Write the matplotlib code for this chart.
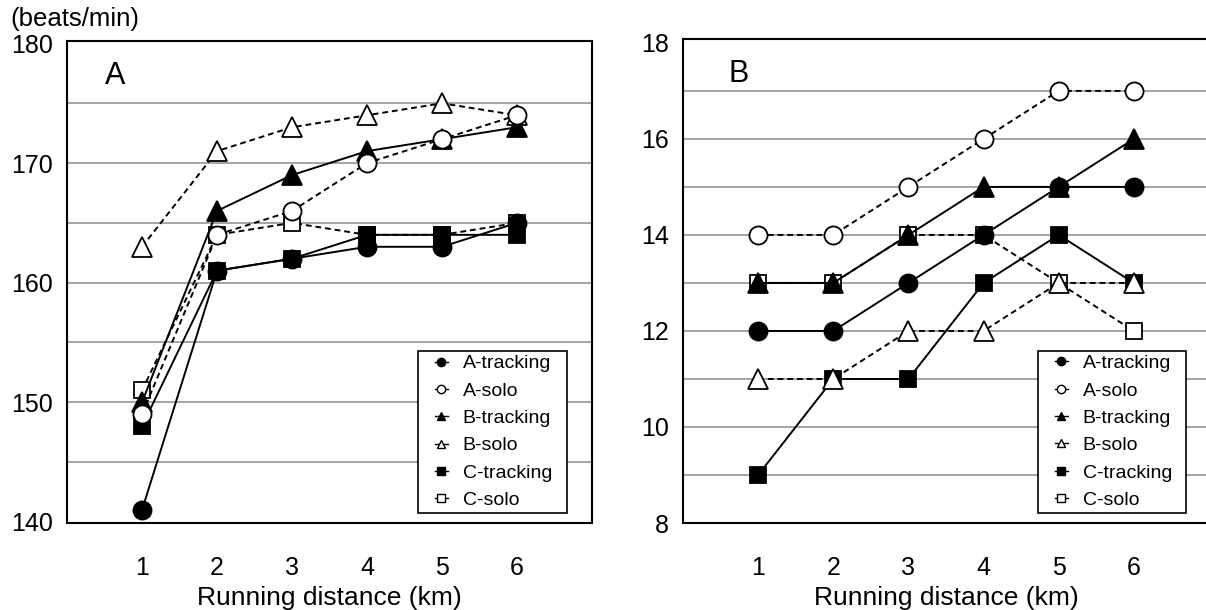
import numpy as np
import matplotlib
matplotlib.use("Agg")
import matplotlib.pyplot as plt
from matplotlib.lines import Line2D
from matplotlib.legend_handler import HandlerLine2D

plt.rcParams['font.family'] = ['Liberation Sans', 'DejaVu Sans']

# Данні
km = [1, 2, 3, 4, 5, 6]
names = ["A-tracking", "A-solo", "B-tracking", "B-solo", "C-tracking", "C-solo"]

# Панель A: пульс (beats/min)
hr_a_tracking = [141, 161, 162, 163, 163, 165]
hr_a_solo = [149, 164, 166, 170, 172, 174]
hr_b_tracking = [150, 166, 169, 171, 172, 173]
hr_b_solo = [163, 171, 173, 174, 175, 174]
hr_c_tracking = [148, 161, 162, 164, 164, 164]
hr_c_solo = [151, 164, 165, 164, 164, 165]

# Панель B
b_a_tracking = [12, 12, 13, 14, 15, 15]
b_a_solo = [14, 14, 15, 16, 17, 17]
b_b_tracking = [13, 13, 14, 15, 15, 16]
b_b_solo = [11, 11, 12, 12, 13, 13]
b_c_tracking = [9, 11, 11, 13, 14, 13]
b_c_solo = [13, 13, 14, 14, 13, 12]

# стилі серій: маркер, заливка, лінія
styles = {
    "A-tracking": ("o", "black", "-"),
    "A-solo": ("o", "white", (0, (3, 2))),
    "B-tracking": ("^", "black", "-"),
    "B-solo": ("^", "white", (0, (3, 2))),
    "C-tracking": ("s", "black", "-"),
    "C-solo": ("s", "white", (0, (3, 2))),
}
msize = {"o": 13, "^": 15, "s": 12}


class ShortHandler(HandlerLine2D):
    # коротка лінія по центру маркера в легенді
    def get_xdata(self, legend, xdescent, ydescent, width, height, fontsize):
        c = width / 2 - xdescent
        xd = np.array([c - 4.5, c + 4.5])
        return xd, np.array([c])


def draw_panel(ax, series, ylim, yticks, grid, letter, letter_x, leg_box):
    ax.set_xlim(0, 7)
    ax.set_ylim(*ylim)
    for y in grid:
        ax.axhline(y, color="#8c8c8c", lw=1.1, zorder=0)
    # малюємо у зворотньому порядку, щоб A було зверху
    for i, name in reversed(list(enumerate(names))):
        m, fc, ls = styles[name]
        ax.plot(km, series[i], color="black", lw=1.4, ls=ls, marker=m,
                markersize=msize[m], markerfacecolor=fc,
                markeredgecolor="black", markeredgewidth=1.3, zorder=2 + (6 - i))
    ax.set_xticks(km)
    ax.set_yticks(yticks)
    ax.tick_params(length=0, labelsize=18)
    ax.tick_params(axis="x", pad=24)
    ax.tick_params(axis="y", pad=10)
    ax.set_xlabel("Running distance (km)", fontsize=19, labelpad=4)
    for sp in ax.spines.values():
        sp.set_linewidth(1.5)
    ax.text(letter_x, 0.958, letter, transform=ax.transAxes, fontsize=22,
            va="top", ha="left")
    handles = []
    for name in names:
        m, fc, ls = styles[name]
        handles.append(Line2D([], [], color="black", lw=1.0, ls="-", marker=m,
                              markersize=6, markerfacecolor=fc,
                              markeredgecolor="black", markeredgewidth=1.0))
    leg = ax.legend(handles, names, loc="lower left", bbox_to_anchor=leg_box,
                    mode="expand", fontsize=14, handlelength=2.0,
                    handletextpad=0.1, labelspacing=0.5,
                    fancybox=False, framealpha=1, borderpad=0.2,
                    borderaxespad=0, edgecolor="black",
                    handler_map={Line2D: ShortHandler()})
    leg.get_frame().set_linewidth(1.2)
    leg.set_zorder(20)


fig = plt.figure(figsize=(12.06, 6.10), dpi=100)
ax1 = fig.add_axes([0.0556, 0.1426, 0.4353, 0.790])
ax2 = fig.add_axes([0.5663, 0.1426, 0.4362, 0.7934])

draw_panel(ax1, [hr_a_tracking, hr_a_solo, hr_b_tracking, hr_b_solo,
                 hr_c_tracking, hr_c_solo],
           (139.9, 180.2), [140, 150, 160, 170, 180],
           [145, 150, 155, 160, 165, 170, 175], "A", 0.072,
           (0.6686, 0.021, 0.2838, 0.33))
draw_panel(ax2, [b_a_tracking, b_a_solo, b_b_tracking, b_b_solo,
                 b_c_tracking, b_c_solo],
           (8, 18.08), [8, 10, 12, 14, 16, 18],
           [9, 10, 11, 12, 13, 14, 15, 16, 17], "B", 0.086,
           (0.675, 0.021, 0.281, 0.33))

fig.text(10 / 1206, 1 - 19 / 610, "(beats/min)", fontsize=18.5, va="center",
         ha="left")

fig.savefig("out.png", dpi=100)
